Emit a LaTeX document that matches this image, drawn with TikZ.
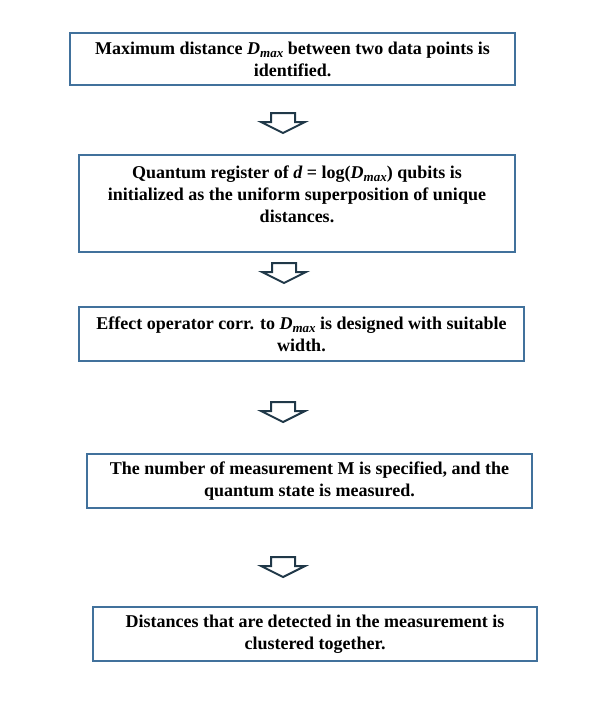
\documentclass[tikz,border=0pt]{standalone}
\usepackage{fontspec}
\setmainfont{Liberation Serif}
\definecolor{boxc}{RGB}{65,113,156}
\definecolor{arrc}{RGB}{32,56,72}
\begin{document}
\begin{tikzpicture}[x=1pt,y=-1pt,
  box/.style={draw=boxc,line width=1.3pt,rectangle,inner sep=0pt},
  txt/.style={align=center,font=\fontsize{18}{22}\selectfont\bfseries,inner sep=0pt},
  barrow/.style={draw=arrc,line width=2pt,fill=white,line join=miter}]
\useasboundingbox (0,0) rectangle (594,707);
\newcommand{\Dmax}{\textit{D}\raisebox{-0.35ex}{\fontsize{13}{13}\selectfont\textit{max}}}
\node[box,minimum width=445pt,minimum height=52pt] (b1) at (292.5,59) {};
\node[txt] (t1) at (b1.center) {Maximum distance \Dmax{} between two data points is\\identified.};
\node[box,minimum width=436pt,minimum height=97pt] (b2) at (297,203.5) {};
\node[txt,anchor=north] (t2) at ([yshift=-11pt]b2.north) {Quantum register of \textit{d} = log(\Dmax) qubits is\\initialized as the uniform superposition of unique\\distances.};
\node[box,minimum width=445pt,minimum height=54pt] (b3) at (301.5,334) {};
\node[txt] (t3) at (b3.center) {Effect operator corr. to \Dmax{} is designed with suitable\\width.};
\node[box,minimum width=445pt,minimum height=54pt] (b4) at (309.5,481) {};
\node[txt] (t4) at (b4.center) {The number of measurement M is specified, and the\\quantum state is measured.};
\node[box,minimum width=444pt,minimum height=54pt] (b5) at (315,634) {};
\node[txt] (t5) at (b5.center) {Distances that are detected in the measurement is\\clustered together.};
\foreach \n/\cx/\ty in {a1/283/113, a2/284/263, a3/283/402, a4/283/557}{
  \coordinate (\n) at (\cx,\ty);
  \draw[barrow] (\n) ++(-12,0) -- ++(24,0) -- ++(0,9) -- ++(10,0) -- ++(-22,11) -- ++(-22,-11) -- ++(10,0) -- cycle;
}
\end{tikzpicture}
\end{document}
